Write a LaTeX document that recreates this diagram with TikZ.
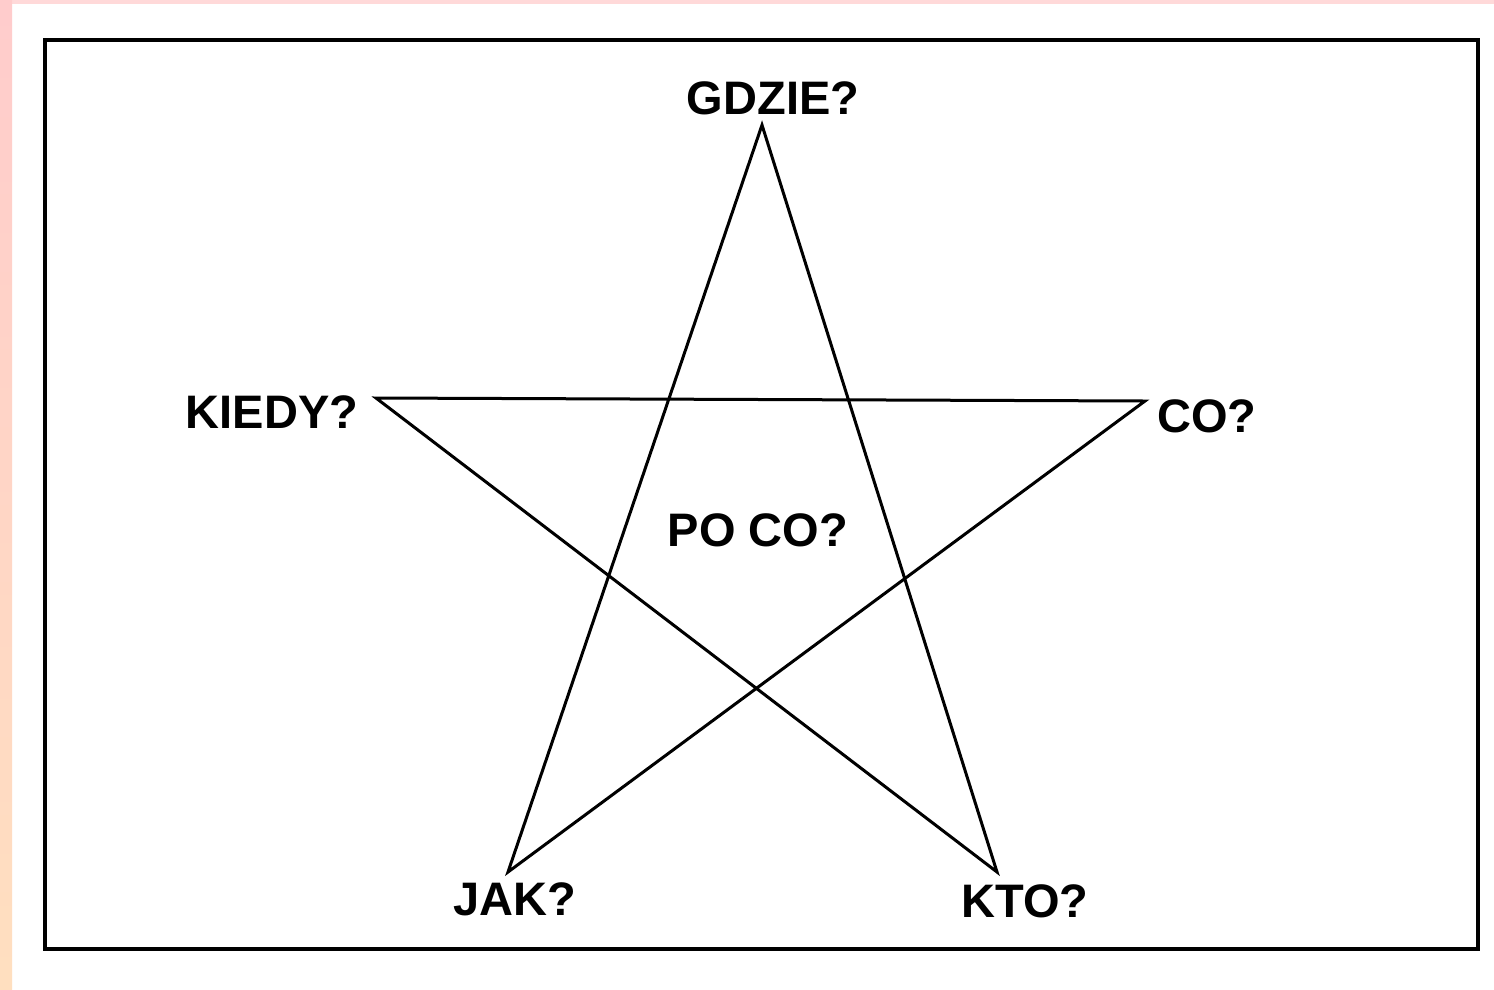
\documentclass[tikz,border=0pt]{standalone}
\usepackage{fontspec}
\setmainfont{Liberation Sans}
\usepackage{tikz}
\usetikzlibrary{
    positioning
}
\tikzset{
    pytanie/.style={
        font=\fontsize{47}{52}\selectfont\bfseries,
        inner sep=0pt,
        anchor=center
    },
    ramka/.style={
        line width=4pt
    },
    gwiazda/.style={
        line width=3pt,
        line join=miter
    }
}

\begin{document}
\begin{tikzpicture}[
    x=1pt,
    y=-1pt
]

    % Tlo i pasek z lewej
    \useasboundingbox (0,0) rectangle (1494,989);
    \fill[white] (0,0) rectangle (1494,989);
    \fill[red!15] (0,0) rectangle (1494,4);
    \shade[top color=red!20, middle color=orange!75, bottom color=orange!25]
        (0,0) rectangle (12,989);

    % Ramka
    \draw[ramka] (45,40) rectangle (1478,949);

    % Wierzcholki gwiazdy
    \coordinate (g) at (762,125);
    \coordinate (ki) at (376,398);
    \coordinate (c) at (1145,401);
    \coordinate (j) at (508,872);
    \coordinate (kt) at (997,872);

    % Pytania
    \node[pytanie] (gdzie) at (773,98)  {GDZIE?};
    \node[pytanie] (kiedy) at (272,412) {KIEDY?};
    \node[pytanie] (co)    at (1207,416) {CO?};
    \node[pytanie] (poco)  at (758,530) {PO CO?};
    \node[pytanie] (jak)   at (515,899) {JAK?};
    \node[pytanie] (kto)   at (1025,901) {KTO?};

    % Gwiazda
    \draw[gwiazda] (g) -- (j) -- (c) -- (ki) -- (kt) -- cycle;

\end{tikzpicture}
\end{document}
